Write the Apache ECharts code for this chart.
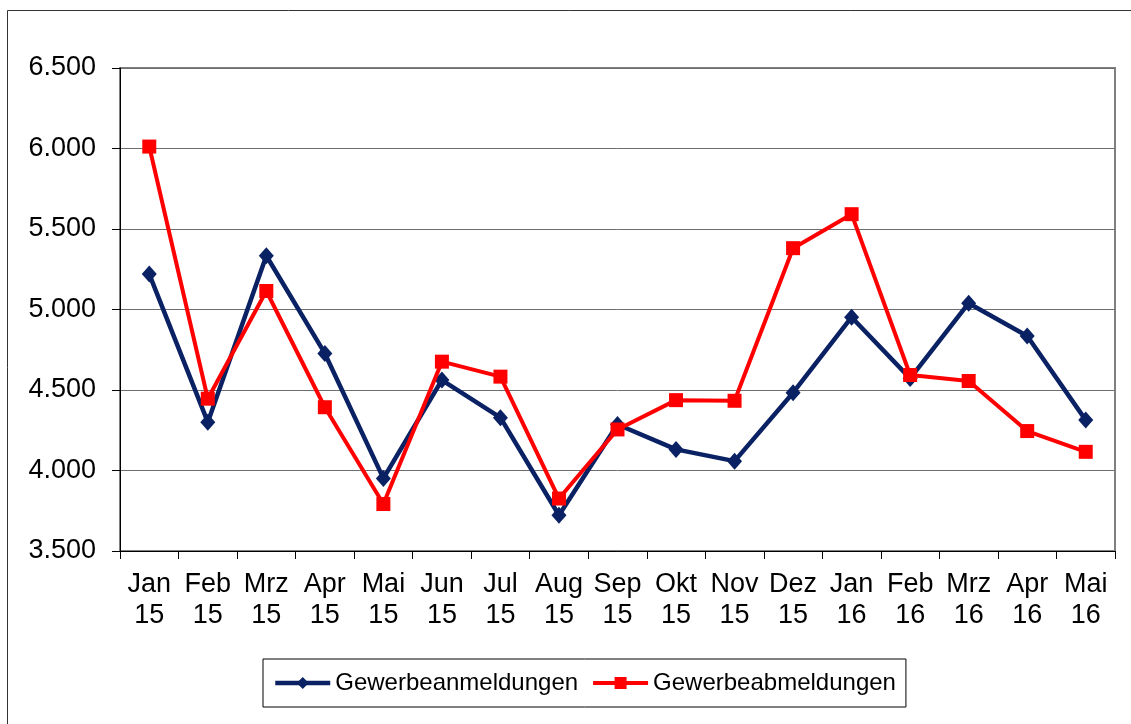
<!DOCTYPE html>
<html>
<head>
<meta charset="utf-8">
<script src="https://cdn.jsdelivr.net/npm/echarts@6/dist/echarts.min.js"></script>
<style>
    html, body { margin: 0; padding: 0; background: #fff; }
    #chart { width: 1131px; height: 724px; }
</style>
</head>
<body>
<div id="chart"></div>
<script>
// Monate (zweizeilig beschriftet)
var months = ['Jan\n15', 'Feb\n15', 'Mrz\n15', 'Apr\n15', 'Mai\n15', 'Jun\n15', 'Jul\n15', 'Aug\n15',
    'Sep\n15', 'Okt\n15', 'Nov\n15', 'Dez\n15', 'Jan\n16', 'Feb\n16', 'Mrz\n16', 'Apr\n16', 'Mai\n16'];
var anmeldungen = [5220, 4300, 5334, 4727, 3951, 4562, 4328, 3722, 4286, 4131, 4058, 4483, 4952, 4572, 5039, 4835, 4313];
var abmeldungen = [6012, 4446, 5115, 4393, 3792, 4676, 4583, 3826, 4255, 4437, 4433, 5381, 5592, 4593, 4556, 4245, 4116];
var yMin = 3500, yMax = 6500, yStep = 500;

var font = 'Liberation Sans, Arial, sans-serif';
var chart = echarts.init(document.getElementById('chart'));

// Tausenderpunkt wie im Original
function fmt(v) {
    return String(v).replace(/\B(?=(\d{3})+(?!\d))/g, '.');
}

chart.setOption({
    animation: false,
    textStyle: { fontFamily: font, color: '#000' },
    graphic: [{
        type: 'rect',
        shape: { x: 7.5, y: 10.5, width: 1300, height: 900 },
        style: { fill: 'none', stroke: '#333', lineWidth: 1 },
        silent: true
    }],
    grid: {
        left: 120, top: 68, right: 16, bottom: 173,
        show: true, borderColor: '#808080', borderWidth: 2
    },
    legend: {
        left: 263, top: 659,
        padding: [11, 10],
        borderColor: '#000', borderWidth: 1,
        itemWidth: 55, itemHeight: 15, itemGap: 13,
        textStyle: { fontSize: 24, fontFamily: font, color: '#000', lineHeight: 26 },
        data: [
            { name: 'Gewerbeanmeldungen', lineStyle: { width: 4.5 } },
            { name: 'Gewerbeabmeldungen', lineStyle: { width: 4 } }
        ]
    },
    xAxis: {
        type: 'category',
        data: months,
        boundaryGap: true,
        axisLine: { lineStyle: { color: '#000', width: 1 } },
        axisTick: { show: true, length: 8, lineStyle: { color: '#000' } },
        axisLabel: { fontSize: 27, lineHeight: 31, margin: 18, color: '#000', fontFamily: font, interval: 0 },
        splitLine: { show: false }
    },
    yAxis: {
        type: 'value',
        min: yMin, max: yMax, interval: yStep,
        axisLine: { show: true, lineStyle: { color: '#000', width: 1 } },
        axisTick: { show: true, length: 8, lineStyle: { color: '#000' } },
        axisLabel: { fontSize: 27, margin: 24, color: '#000', fontFamily: font, formatter: fmt },
        splitLine: { lineStyle: { color: '#6e6e6e', width: 1 } }
    },
    series: [{
        name: 'Gewerbeanmeldungen',
        type: 'line',
        data: anmeldungen,
        color: '#0a2163',
        symbol: 'diamond',
        symbolSize: [15, 17],
        lineStyle: { width: 4.5 },
        z: 2
    }, {
        name: 'Gewerbeabmeldungen',
        type: 'line',
        data: abmeldungen,
        color: '#ff0000',
        symbol: 'rect',
        symbolSize: 14,
        lineStyle: { width: 4 },
        z: 3
    }]
});
</script>
</body>
</html>
